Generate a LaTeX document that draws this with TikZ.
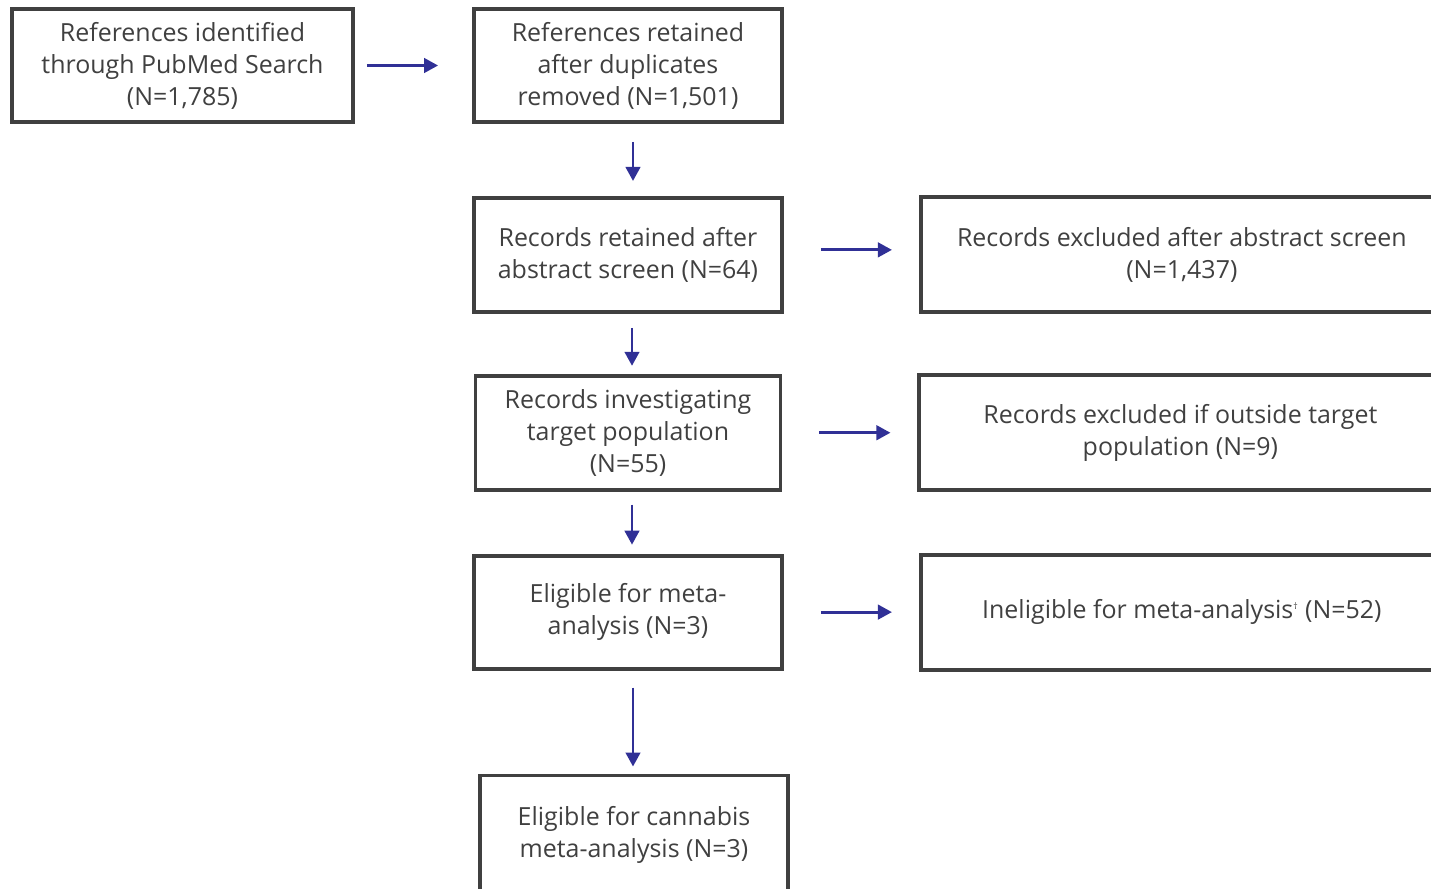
\documentclass[tikz,border=0pt]{standalone}
\usepackage{fontspec}
\setmainfont{Open Sans}
\usepackage{xcolor}
\usetikzlibrary{arrows.meta,positioning}
\definecolor{boxgray}{RGB}{64,64,64}
\definecolor{textgray}{RGB}{64,64,64}
\definecolor{arrowblue}{RGB}{48,48,150}
\tikzset{
  stagebox/.style={draw=boxgray, line width=2.2pt, align=center, fill=white,
    text=textgray, minimum width=6.16cm, minimum height=2.26cm,
    font=\fontsize{14.2}{18.2}\selectfont, inner sep=0pt},
  excludebox/.style={stagebox, minimum width=10.44cm, minimum height=2.3cm},
  flow/.style={-{Triangle[length=2.8mm, width=2.9mm]}, line width=1.6pt, draw=arrowblue}
}
\begin{document}
\begin{tikzpicture}[node distance=1.2cm and 2.7cm]
\useasboundingbox (0,0) rectangle (28.62,-17.78);
\node[stagebox, minimum width=6.82cm, minimum height=2.26cm] (identified) at (3.65,-1.31)
{References identified\\through PubMed Search\\(N=1,785)};
\node[stagebox, minimum height=2.26cm] (dedup) at (12.56,-1.31)
{References retained\\after duplicates\\removed (N=1,501)};
\node[stagebox, minimum height=2.28cm, below=1.44cm of dedup] (abstract)
{Records retained after\\abstract screen (N=64)};
\node[stagebox, minimum width=6.1cm, minimum height=2.28cm, below=of abstract] (population)
{Records investigating\\target population\\(N=55)};
\node[stagebox, below=1.24cm of population] (eligible)
{Eligible for meta-\\analysis (N=3)};
\node[stagebox, minimum height=2.36cm, below=2.06cm of eligible, xshift=0.12cm] (cannabis)
{Eligible for cannabis\\meta-analysis (N=3)};

\node[excludebox, right=of abstract] (excl1)
{Records excluded after abstract screen\\(N=1,437)};
\node[excludebox, right=of population] (excl2)
{Records excluded if outside target\\population (N=9)};
\node[excludebox, right=of eligible] (excl3)
{Ineligible for meta-analysis\textsuperscript{\tiny\dag} (N=52)};

\draw[flow, shorten <=0.24cm, shorten >=0.68cm] (identified) -- (dedup);
\draw[flow, shorten <=0.36cm, shorten >=0.3cm, transform canvas={xshift=0.1cm}] (dedup) -- (abstract);
\draw[flow, shorten <=0.28cm, shorten >=0.16cm, transform canvas={xshift=0.08cm}] (abstract) -- (population);
\draw[flow, shorten <=0.26cm, shorten >=0.18cm, transform canvas={xshift=0.08cm}] (population) -- (eligible);
\draw[flow, shorten <=0.34cm, shorten >=0.14cm, transform canvas={xshift=0.1cm}] (eligible.south) -- (eligible.south |- cannabis.north);
\draw[flow, shorten <=0.74cm, shorten >=0.54cm, transform canvas={yshift=0.1cm}] (abstract) -- (excl1);
\draw[flow, shorten <=0.74cm, shorten >=0.54cm] (population) -- (excl2);
\draw[flow, shorten <=0.74cm, shorten >=0.54cm] (eligible) -- (excl3);
\end{tikzpicture}
\end{document}
